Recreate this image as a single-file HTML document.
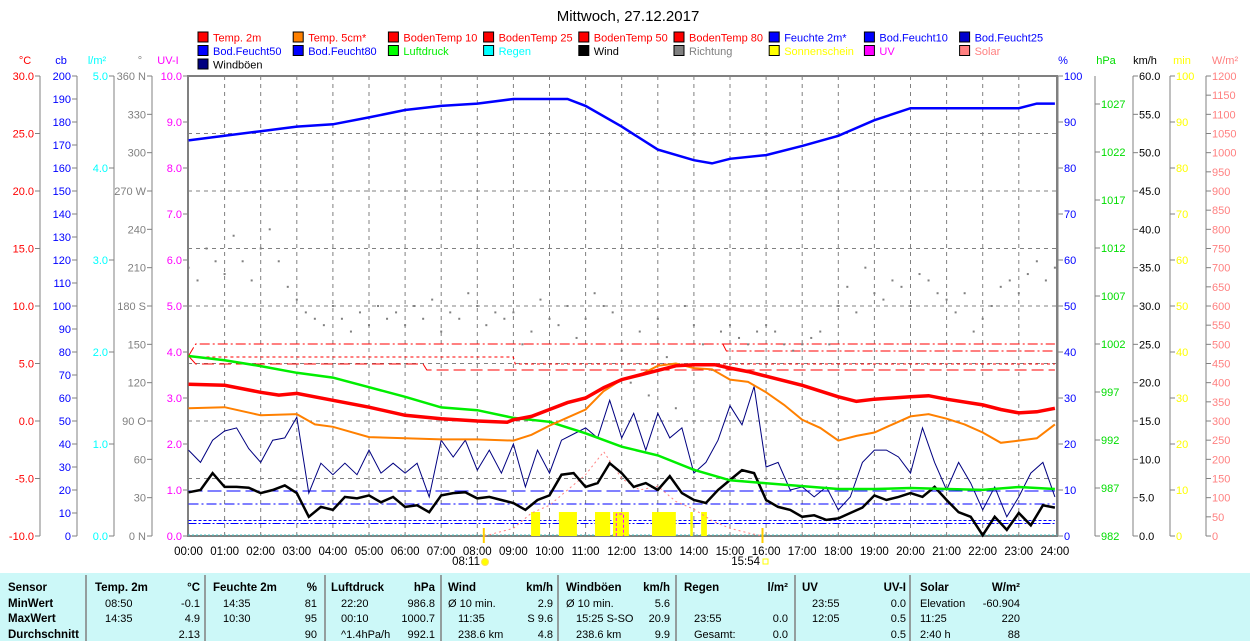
<!DOCTYPE html>
<html><head><meta charset="utf-8"><style>
html,body{margin:0;padding:0;background:#fff;}
svg{display:block;font-family:"Liberation Sans",sans-serif;}
</style></head><body>
<svg id="c" width="1250" height="641" viewBox="0 0 1250 641">
<text x="628" y="21" font-size="15" text-anchor="middle" fill="#000">Mittwoch, 27.12.2017</text>
<g id="legend"></g>
<g id="axes"></g>
<g id="plot"></g>
<g id="table"></g>
</svg>
<script>
// ---- data ----
const tempTimes=[0,1,2,2.5,3,4,5,6,7,8,8.83,9,9.5,10,10.5,11,11.5,12,12.5,13,13.5,14,14.58,15,15.5,16,17,18,18.5,19,20,20.5,21,22,22.5,23,23.5,24];
const temp2m=[3.2,3.1,2.5,2.25,2.4,1.8,1.2,0.5,0.2,0.0,-0.1,0.1,0.4,1.0,1.6,2.0,2.9,3.6,4.0,4.4,4.8,4.9,4.9,4.6,4.3,3.9,3.1,2.1,1.7,1.9,2.1,2.2,1.9,1.4,1.0,0.7,0.8,1.1];
const temp5Times=[0,1,2,3,3.5,4,5,6,7,8,9,9.5,10,10.5,11,11.5,12,12.5,13,13.5,14,14.5,15,15.5,16,16.5,17,17.5,18,18.5,19,19.5,20,20.5,21,21.5,22,22.5,23,23.5,24];
const temp5cm=[1.1,1.2,0.5,0.6,-0.3,-0.5,-1.4,-1.5,-1.6,-1.6,-1.7,-1.2,-0.4,0.3,1.0,2.6,3.6,4.0,4.8,5.0,4.6,4.5,3.6,3.4,2.5,1.4,0.1,-0.6,-1.7,-1.3,-1.0,-0.3,0.4,0.6,0.2,-0.3,-1.0,-1.9,-1.7,-1.5,-0.3];
const pressTimes=[0,1,2,3,4,5,6,7,8,9,10,11,12,13,14,15,16,17,18,19,20,21,22,23,24];
const pressure=[1000.75,1000.3,999.7,999.0,998.5,997.5,996.5,995.4,995.1,994.3,993.9,992.7,991.3,990.4,988.9,987.8,987.5,987.2,986.9,986.9,987.0,986.9,986.8,987.1,986.9];
const humTimes=[0,1,2,3,4,5,6,7,8,9,10,10.5,11,12,13,14,14.5,15,16,17,18,19,20,21,22,23,23.5,24];
const humidity=[86,87,88,89,89.5,91,92.6,93.5,94,95,95,95,93.5,89,84,81.7,81,82,82.8,84.8,87,90.4,93,93,93,93,94,94];
// 20-minute samples, 00:00..24:00
const wind=[5.7,6.0,8.2,6.4,6.4,6.3,5.6,6.0,6.6,5.6,2.5,3.8,3.4,5.1,4.9,5.3,4.4,5.1,3.8,4.0,3.1,5.3,5.6,5.7,4.9,5.1,4.7,4.3,3.4,4.7,5.3,8.0,8.2,6.4,6.9,9.5,8.2,
6.4,6.9,6.0,7.8,5.6,4.7,4.3,6.0,7.3,8.6,8.2,4.7,3.8,3.4,2.5,2.7,2.1,2.3,3.0,3.7,5.3,4.7,5.1,5.6,5.1,6.4,4.7,3.1,2.5,0.1,2.5,0.8,3.0,1.4,4.0,3.7];
const gusts=[11.2,9.6,12.5,13.7,14.1,11.4,9.6,12.5,12.8,15.5,5.6,9.5,8.0,9.5,8.0,11.2,8.2,9.5,8.2,9.5,5.1,12.5,10.3,12.5,8.6,11.2,8.2,12.0,6.4,11.2,8.2,12.5,13.3,14.1,12.8,17.7,12.8,
16,11.2,16.0,12.8,14.1,8.2,9.6,12.5,17,14.5,19.5,9.0,9.6,6.0,6.4,5.1,6.4,3.4,5.1,9.6,11.2,11.2,10.3,8.2,14.1,9.6,6.0,9.6,6.9,3.4,6.4,2.5,5.1,8.2,9.6,5.1];
// 15-minute samples wind direction (deg)
const direction=[210,200,225,215,205,235,215,200,225,240,215,195,185,
175,170,165,180,170,160,175,165,180,170,175,
165,180,170,185,160,175,170,190,180,165,175,170,
175,150,160,185,170,165,180,155,170,190,180,175,
145,120,160,110,170,140,100,180,165,150,130,160,
165,155,150,160,165,160,150,145,150,155,160,150,
180,195,175,210,190,185,200,195,180,205,200,190,
185,175,190,160,170,180,195,200,190,205,215,200,210];
const sunStart=[9.49,10.26,11.26,11.76,12.84,13.9,14.2];
const sunEnd=[9.74,10.76,11.68,12.2,13.5,13.97,14.36];
const solarTimes=[8.2,9,9.5,10,10.5,11,11.5,12,12.5,13,13.5,14,14.5,15,15.5,15.9];
const solar=[0,20,60,80,120,160,220,150,120,130,90,70,40,20,8,0];
const hourLabels=["00:00","01:00","02:00","03:00","04:00","05:00","06:00","07:00","08:00","09:00","10:00","11:00","12:00","13:00","14:00","15:00","16:00","17:00","18:00","19:00","20:00","21:00","22:00","23:00","24:00"];

// ---- scales ----
const X=t=>188.5+t*36.1;
const yT=v=>76+(30-v)*11.5;
const yH=v=>536-v*4.6;
const yP=v=>536-(v-982)*9.6;
const yW=v=>536-v*460/60;
const yD=d=>536-d*460/360;
const yS=v=>536-v*460/1200;

const NS="http://www.w3.org/2000/svg";
function mk(tag,attrs,parent,text){const e=document.createElementNS(NS,tag);for(const k in attrs)e.setAttribute(k,attrs[k]);if(text!==undefined)e.textContent=text;parent.appendChild(e);return e;}
const legend=document.getElementById('legend'),axes=document.getElementById('axes'),plot=document.getElementById('plot'),table=document.getElementById('table');

// ---- legend ----
const legItems=[["Temp. 2m","#ff0000","#ff0000"],["Temp. 5cm*","#ff8000","#ff0000"],["BodenTemp 10","#ff0000","#ff0000"],["BodenTemp 25","#ff0000","#ff0000"],["BodenTemp 50","#ff0000","#ff0000"],["BodenTemp 80","#ff0000","#ff0000"],["Feuchte 2m*","#0000ff","#0000ff"],["Bod.Feucht10","#0000ff","#0000ff"],["Bod.Feucht25","#0000cc","#0000ff"],
["Bod.Feucht50","#0000ff","#0000ff"],["Bod.Feucht80","#0000ff","#0000ff"],["Luftdruck","#00ff00","#00ee00"],["Regen","#00ffff","#00ffff"],["Wind","#000000","#000000"],["Richtung","#808080","#808080"],["Sonnenschein","#ffff00","#ffff00"],["UV","#ff00ff","#ff00ff"],["Solar","#ff8080","#ff8080"],
["Windböen","#000080","#000000"]];
legItems.forEach((it,i)=>{
  const col=i%9,row=Math.floor(i/9);
  const x=198+col*95.2,y=32+row*13.5;
  const g=mk('g',{},legend);
  
  
  mk('rect',{x:x,y:y,width:10,height:10,fill:it[1],stroke:'#000','stroke-width':1},g);
  mk('text',{x:x+15,y:y+9.5,'font-size':11,fill:it[2]},g,it[0]);
});

// ---- axes helpers ----
function axis(lineX,top,bot,ticks,fmt,yf,color,side,name,head,headX){
  const g=mk('g',{},axes);
  
  
  if(lineX!==null) mk('line',{x1:lineX,y1:top,x2:lineX,y2:bot,stroke:'#808080','stroke-width':1},g);
  ticks.forEach(v=>{const y=yf(v);
    if(side==='L'){mk('line',{x1:lineX-5,y1:y,x2:lineX,y2:y,stroke:'#808080'},g);mk('text',{x:lineX-6,y:y+4,'font-size':11,fill:color,'text-anchor':'end'},g,fmt(v));}
    else{mk('line',{x1:lineX,y1:y,x2:lineX+5,y2:y,stroke:'#808080'},g);mk('text',{x:lineX+6,y:y+4,'font-size':11,fill:color},g,fmt(v));}
  });
  mk('text',{x:headX,y:64,'font-size':11,fill:color,'text-anchor':'middle'},g,head);
}
const range=(a,b,s)=>{const r=[];for(let v=a;v<=b+1e-9;v+=s)r.push(+v.toFixed(3));return r;};
axis(40,76,536,range(-10,30,5),v=>v.toFixed(1),yT,'#ff0000','L','temp-axis','°C',25);
axis(77,76,536,range(0,200,10),v=>String(v),v=>536-v*2.3,'#0000ff','L','cb-axis','cb',61);
axis(114,76,536,range(0,5,1),v=>v.toFixed(1),v=>536-v*92,'#00ffff','L','rain-axis','l/m²',97);
const dirNames={0:"0 N",90:"90 O",180:"180 S",270:"270 W",360:"360 N"};
axis(152,76,536,range(0,360,30),v=>dirNames[v]||String(v),yD,'#808080','L','direction-axis','°',140);
axis(188,76,536,range(0,10,1),v=>v.toFixed(1),v=>536-v*46,'#ff00ff','L','uv-axis','UV-I',168);
axis(1058,76,536,range(0,100,10),v=>String(v),yH,'#0000ff','R','humidity-axis','%',1063);
axis(1095,76,536,range(982,1027,5),v=>String(v),yP,'#00dd00','R','pressure-axis','hPa',1106);
axis(1133,76,536,range(0,60,5),v=>v.toFixed(1),yW,'#000000','R','wind-axis','km/h',1145);
axis(1170,76,536,range(0,100,10),v=>String(v),v=>536-v*4.6,'#ffff00','R','sun-minutes-axis','min',1182);
axis(1206,76,536,range(0,1200,50),v=>String(v),yS,'#ff8080','R','solar-axis','W/m²',1225);

// ---- plot grid ----
for(let k=1;k<8;k++){const y=76+k*57.5;const l=mk('line',{x1:188,y1:y,x2:1057,y2:y,stroke:'#808080','stroke-dasharray':'4,4'},plot);}
hourLabels.forEach((h,i)=>{const x=X(i);
  if(i>0&&i<24){const l=mk('line',{x1:x,y1:76,x2:x,y2:536,stroke:'#808080','stroke-dasharray':'4,4'},plot);}
  const t=mk('text',{x:x,y:555,'font-size':11.5,'text-anchor':'middle',fill:'#000'},plot,h);
  
});
mk('rect',{x:188,y:76,width:869,height:460,fill:'none',stroke:'#808080','stroke-width':2},plot);

// ---- reference dashed lines ----
function pl(pts,attrs,name){const p=mk('polyline',Object.assign({points:pts.map(q=>q[0].toFixed(1)+','+q[1].toFixed(1)).join(' '),fill:'none'},attrs),plot);return p;}
pl([[X(0),356],[X(0.2),344],[X(24),344]],{stroke:'#ff0000','stroke-dasharray':'10,3,2,3'},'bodentemp-10-line');
pl([[X(0),356],[X(0.2),357],[X(9),357],[X(9.05),364],[X(24),364]],{stroke:'#ff0000','stroke-dasharray':'3,3'},'bodentemp-25-line');
pl([[X(0),356],[X(0.2),364],[X(6.5),364],[X(6.6),370],[X(24),370]],{stroke:'#ff0000','stroke-dasharray':'12,5'},'bodentemp-50-line');
pl([[X(14.8),344],[X(14.9),351],[X(24),351]],{stroke:'#ff0000','stroke-dasharray':'10,3,2,3'},'bodentemp-80-line');
pl([[X(0),491],[X(24),491]],{stroke:'#0000ff','stroke-dasharray':'14,5'},'bodfeucht-10-line');
pl([[X(0),504],[X(24),504]],{stroke:'#0000ff','stroke-dasharray':'10,3,2,3'},'bodfeucht-25-line');
pl([[X(0),520.5],[X(24),520.5]],{stroke:'#0000ff','stroke-dasharray':'3,2'},'bodfeucht-50-line');
pl([[X(0),523.5],[X(24),523.5]],{stroke:'#0000ff','stroke-dasharray':'8,2,2,2'},'bodfeucht-80-line');
pl([[188,535],[1057,535]],{stroke:'#40c0c0','stroke-dasharray':'2,2'},'rain-line');

// ---- sunshine bars ----
sunStart.forEach((s,i)=>{const r=mk('rect',{x:X(s),y:512,width:X(sunEnd[i])-X(s),height:24,fill:'#ffff00'},plot);
  });
pl([[X(11.85),536],[X(11.85),514],[X(12.05),514],[X(12.05),536]],{stroke:'#ff00ff','stroke-dasharray':'3,2'},'uv-line');
// sunrise/sunset markers
mk('line',{x1:X(8.18),y1:528,x2:X(8.18),y2:543,stroke:'#ffd000','stroke-width':2},plot);
mk('line',{x1:X(15.9),y1:528,x2:X(15.9),y2:543,stroke:'#ffd000','stroke-width':2},plot);
mk('text',{x:480,y:565,'font-size':11.5,'text-anchor':'end'},plot,'08:11');
mk('circle',{cx:485,cy:562,r:3.5,fill:'#ffff00',stroke:'#ffe060'},plot);
mk('text',{x:760,y:565,'font-size':11.5,'text-anchor':'end'},plot,'15:54');
mk('rect',{x:763,y:559,width:5,height:5,fill:'none',stroke:'#ffff00'},plot);

// ---- direction dots ----
direction.forEach((d,i)=>{const r=mk('rect',{x:X(i*0.25)-1,y:yD(d)-1,width:2,height:2,fill:'#808080'},plot);
  });

// ---- series ----
pl(solarTimes.map((t,i)=>[X(t),yS(solar[i])]),{stroke:'#ff8080','stroke-dasharray':'2,3'},'solar-line');
pl(gusts.map((v,i)=>[X(i/3),yW(v)]),{stroke:'#000080','stroke-width':1},'gusts-line');
pl(wind.map((v,i)=>[X(i/3),yW(v)]),{stroke:'#000000','stroke-width':2.5},'wind-line');
pl(pressTimes.map((t,i)=>[X(t),yP(pressure[i])]),{stroke:'#00ee00','stroke-width':2.5},'pressure-line');
pl(temp5Times.map((t,i)=>[X(t),yT(temp5cm[i])]),{stroke:'#ff8000','stroke-width':2},'temp-5cm-line');
pl(tempTimes.map((t,i)=>[X(t),yT(temp2m[i])]),{stroke:'#ff0000','stroke-width':3.5},'temp-2m-line');
pl(humTimes.map((t,i)=>[X(t),yH(humidity[i])]),{stroke:'#0000ff','stroke-width':2.5},'humidity-line');

// ---- table ----
mk('rect',{x:0,y:573,width:1250,height:68,fill:'#ccf8f8'},table);
[86,205,325,441,558,676,795,910].forEach(x=>mk('line',{x1:x,y1:575,x2:x,y2:641,stroke:'#808080','stroke-width':1.5},table));
const rowsY=[591,607,622,638];
const cols=[
 [8,null,["Sensor","MinWert","MaxWert","Durchschnitt"],null],
 [95,200,["Temp. 2m","08:50","14:35",""],["°C","-0.1","4.9","2.13"]],
 [213,317,["Feuchte 2m","14:35","10:30",""],["%","81","95","90"]],
 [331,435,["Luftdruck","22:20","00:10","^1.4hPa/h"],["hPa","986.8","1000.7","992.1"]],
 [448,553,["Wind","Ø 10 min.","11:35","238.6 km"],["km/h","2.9","S 9.6","4.8"]],
 [566,670,["Windböen","Ø 10 min.","15:25  S-SO","238.6 km"],["km/h","5.6","20.9","9.9"]],
 [684,788,["Regen","","23:55","Gesamt:"],["l/m²","","0.0","0.0"]],
 [802,906,["UV","23:55","12:05",""],["UV-I","0.0","0.5","0.5"]],
 [920,1020,["Solar","Elevation","11:25","2:40 h"],["W/m²","-60.904","220","88"]]
];
cols.forEach((c,ci)=>{
  c[2].forEach((t,r)=>{const bold=(r===0||ci===0);const ind=(!bold&&ci>0&&r>0&&ci!==8&&!(ci===4&&r===1)&&!(ci===5&&r===1))?10:0;
    const e=mk('text',{x:c[0]+ind,y:rowsY[r],'font-size':bold?11.5:11,'font-weight':bold?'bold':'normal',fill:'#000'},table,t);
    });
  if(c[3]) c[3].forEach((t,r)=>{const e=mk('text',{x:c[1],y:rowsY[r],'font-size':r===0?11.5:11,'font-weight':r===0?'bold':'normal','text-anchor':'end',fill:'#000'},table,t);
    });
});
</script>
</body></html>
